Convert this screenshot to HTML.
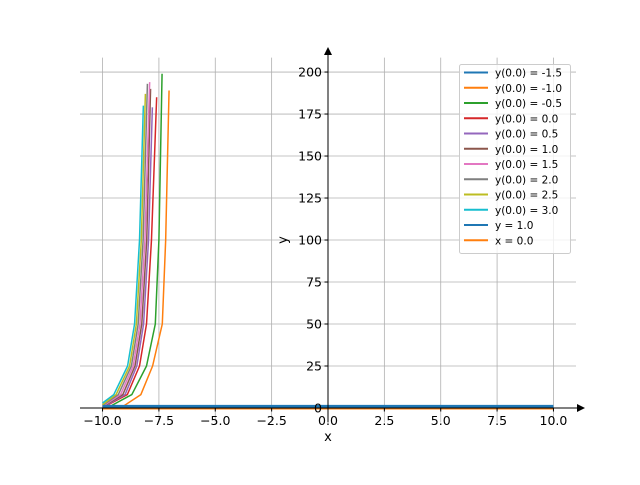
<!DOCTYPE html>
<html><head><meta charset="utf-8"><style>
body{margin:0;background:#fff;font-family:"Liberation Sans","DejaVu Sans",sans-serif}
svg text{font-family:"DejaVu Sans","Liberation Sans",sans-serif}
</style></head><body>
<svg id="chart" width="640" height="480" xmlns="http://www.w3.org/2000/svg">
<g id="grid"></g>
<g id="series"></g>
<g id="axes"></g>
<g id="legend"></g>
</svg>
<script>
const xTicks=[-10,-7.5,-5,-2.5,0,2.5,5,7.5,10];
const xTickLabels=["−10.0","−7.5","−5.0","−2.5","0.0","2.5","5.0","7.5","10.0"];
const yTicks=[0,25,50,75,100,125,150,175,200];
const seriesNames=["y(0.0) = -1.5","y(0.0) = -1.0","y(0.0) = -0.5","y(0.0) = 0.0","y(0.0) = 0.5","y(0.0) = 1.0","y(0.0) = 1.5","y(0.0) = 2.0","y(0.0) = 2.5","y(0.0) = 3.0","y = 1.0","x = 0.0"];
const colors=["#1f77b4","#ff7f0e","#2ca02c","#d62728","#9467bd","#8c564b","#e377c2","#7f7f7f","#bcbd22","#17becf","#1f77b4","#ff7f0e"];
const sX0=[[-10,-9.5,-9],[-9.2,-8.3,-7.78,-7.35,-7.2,-7.05],[-9.8,-8.7,-8.05,-7.66,-7.5,-7.36],[-10,-8.9,-8.36,-8.05,-7.83,-7.6],[-10,-9.0,-8.48,-8.18,-7.96,-7.79],[-10,-9.1,-8.56,-8.26,-8.04,-7.87],[-10,-9.2,-8.64,-8.34,-8.12,-7.91],[-10,-9.3,-8.72,-8.42,-8.2,-8.01],[-10,-9.4,-8.8,-8.5,-8.28,-8.1],[-10,-9.5,-8.89,-8.58,-8.36,-8.19]];
const sY0=[[0,0,0],[0,8,25,50,100,189],[0,8,25,50,100,199],[0.2,8,25,50,100,185],[0.4,8,25,50,100,179],[0.7,8,25,50,100,190],[1,8,25,50,100,194],[1.5,8,25,50,100,193],[2,8,25,50,100,187],[3,8,25,50,100,180]];
const hLineY=[1.0];
const vLineX=[0.0];
const xmin=-11,xmax=11,ymin=-8.57,ymax=208.6;
const L=80,R=576,T=57.6,B=422.4;
const sx=v=>L+(v-xmin)/(xmax-xmin)*(R-L);
const sy=v=>B-(v-ymin)/(ymax-ymin)*(B-T);
const NS="http://www.w3.org/2000/svg";
function mk(tag,parent,attrs){const e=document.createElementNS(NS,tag);for(const k in attrs)e.setAttribute(k,attrs[k]);parent.appendChild(e);return e;}
const grid=document.getElementById('grid'),ser=document.getElementById('series'),axes=document.getElementById('axes'),leg=document.getElementById('legend');
xTicks.forEach(t=>{const l=mk('line',grid,{x1:sx(t),x2:sx(t),y1:T,y2:B,stroke:'#b0b0b0','stroke-width':0.8});

});
yTicks.forEach(t=>{const l=mk('line',grid,{x1:L,x2:R,y1:sy(t),y2:sy(t),stroke:'#b0b0b0','stroke-width':0.8});

});
sX0.forEach((xs,i)=>{const pts=xs.map((x,j)=>sx(x)+','+sy(sY0[i][j])).join(' ');
const p=mk('polyline',ser,{points:pts,fill:'none',stroke:colors[i],'stroke-width':1.5,'stroke-linejoin':'round'});

});
hLineY.forEach(v=>{const l=mk('line',ser,{x1:sx(-10),x2:sx(10),y1:sy(v),y2:sy(v),stroke:colors[10],'stroke-width':3});

});
vLineX.forEach(v=>{const l=mk('line',ser,{x1:sx(-10),x2:sx(10),y1:sy(v)+1,y2:sy(v)+1,stroke:colors[11],'stroke-width':1});

});
// spines
const x0=sx(0),y0=sy(0);
let e=mk('line',axes,{x1:L,x2:582,y1:y0,y2:y0,stroke:'#000','stroke-width':1});


e=mk('path',axes,{d:`M585,${y0} L577,${y0-4} L577,${y0+4} Z`,fill:'#000'});


e=mk('line',axes,{x1:x0,x2:x0,y1:B,y2:52,stroke:'#000','stroke-width':1});


e=mk('path',axes,{d:`M${x0},47 L${x0-4},55 L${x0+4},55 Z`,fill:'#000'});


xTicks.forEach((t,i)=>{mk('line',axes,{x1:sx(t),x2:sx(t),y1:y0,y2:y0+3.5,stroke:'#000'});
const tx=mk('text',axes,{x:sx(t),y:y0+17,'font-size':12.5,'text-anchor':'middle',fill:'#000'});tx.textContent=xTickLabels[i];

});
yTicks.forEach(t=>{mk('line',axes,{x1:x0-3.5,x2:x0,y1:sy(t),y2:sy(t),stroke:'#000'});
const tx=mk('text',axes,{x:x0-6,y:sy(t)+4.5,'font-size':12.5,'text-anchor':'end',fill:'#000'});tx.textContent=String(t);

});
e=mk('text',axes,{x:x0,y:441,'font-size':13,'text-anchor':'middle'});e.textContent='x';


e=mk('text',axes,{x:287,y:240,'font-size':13,'text-anchor':'middle',transform:'rotate(-90 287 240)'});e.textContent='y';


e=mk('rect',leg,{x:459.5,y:64.5,width:111,height:189,fill:'#fff','fill-opacity':0.8,stroke:'#ccc',rx:2});


seriesNames.forEach((n,i)=>{const yy=72.5+i*15.25;
const g=mk('g',leg,{});


mk('line',g,{x1:464,x2:488,y1:yy,y2:yy,stroke:colors[i],'stroke-width':2});
const t=mk('text',g,{x:495,y:yy+4,'font-size':10.5});t.textContent=n;});
</script>
</body></html>
